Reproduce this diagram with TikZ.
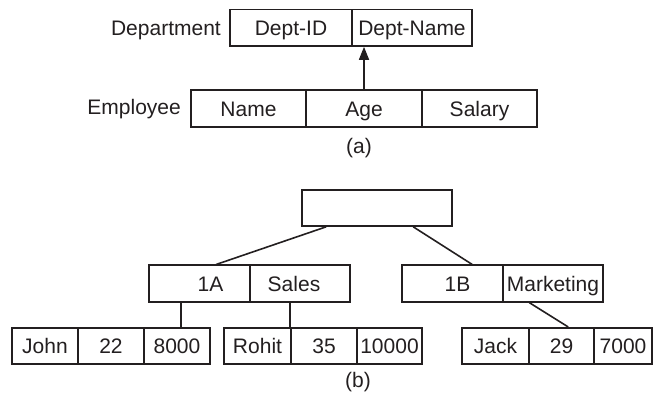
\documentclass[tikz,border=0pt]{standalone}
\usepackage{fontspec}
\setmainfont{Liberation Sans}
\usetikzlibrary{arrows.meta,positioning,calc}
\definecolor{ErInk}{RGB}{35,31,32}
\tikzset{
  er/cell/.style={
    draw=ErInk,
    line width=1.6pt,
    fill=white,
    align=center,
    text=ErInk,
    minimum height=36.5pt,
    inner sep=0pt,
    text height=15pt,
    text depth=0pt,
    font=\fontsize{21}{24}\selectfont
  },
  er/name/.style={text=ErInk, inner sep=0pt, text height=15pt, text depth=0pt,
    font=\fontsize{21}{24}\selectfont},
  er/link/.style={line width=1.6pt, draw=ErInk},
  er/arrow/.style={-{Triangle[length=13pt,width=10pt]}, line width=1.6pt, draw=ErInk}
}

\begin{document}
\begin{tikzpicture}[x=1pt,y=-1pt]
  \useasboundingbox (0,0) rectangle (655,400);
  % (a) schema
  \node[er/name,anchor=east] (dept) at (221,27.5) {Department};
  \node[er/cell,minimum width=122pt] (did) at (291,27.75) {Dept-ID};
  \node[er/cell,minimum width=120pt] (dname) at (412,27.75) {Dept-Name};
  \node[er/name,anchor=east] (emp) at (181,107) {Employee};
  \foreach \nm/\txt/\x/\w in {ename/Name/248.5/115,age/Age/364/116,salary/Salary/479.5/115}
  {\node[er/cell,minimum width=\w pt] (\nm) at (\x,108.5) {\txt};}
  \draw[er/arrow] (age.north) -- (age.north |- dname.south);
  \node[er/name] (capa) at (359,146) {(a)};

  % (b) instance
  \node[er/cell,minimum width=150pt,minimum height=36pt] (root) at (377,208) {};
  \node[er/cell,minimum width=101pt] (ida) at (199.5,283.5) {\hspace*{22pt}1A};
  \node[er/cell,minimum width=100pt] (sales) at (300,283.5) {Sales\hspace*{12pt}};
  \node[er/cell,minimum width=101pt] (idb) at (452.5,283.5) {\hspace*{10pt}1B};
  \node[er/cell,minimum width=100pt] (mkt) at (553,283.5) {Marketing};
  \foreach \nm/\txt/\x/\w in {
    john/John/45/66,age1/22/111/66,sal1/8000/177/66,
    rohit/Rohit/257.5/67,age2/35/324/66,sal2/10000/389.5/65,
    jack/Jack/495.5/67,age3/29/561.5/65,sal3/7000/623/58}
  {\node[er/cell,minimum width=\w pt] (\nm) at (\x,346) {\txt};}
  \draw[er/link] ([xshift=25pt]root.south west) -- ([xshift=68pt]ida.north west);
  \draw[er/link] ([xshift=112pt]root.south west) -- ([xshift=71pt]idb.north west);
  \draw[er/link] ([xshift=33pt]ida.south west) -- ([xshift=38pt]sal1.north west);
  \draw[er/link] ([xshift=41pt]sales.south west) -- (age2.north west);
  \draw[er/link] ([xshift=27pt]mkt.south west) -- ([xshift=40pt]age3.north west);
  \node[er/name] (capb) at (358,380) {(b)};
\end{tikzpicture}
\end{document}
